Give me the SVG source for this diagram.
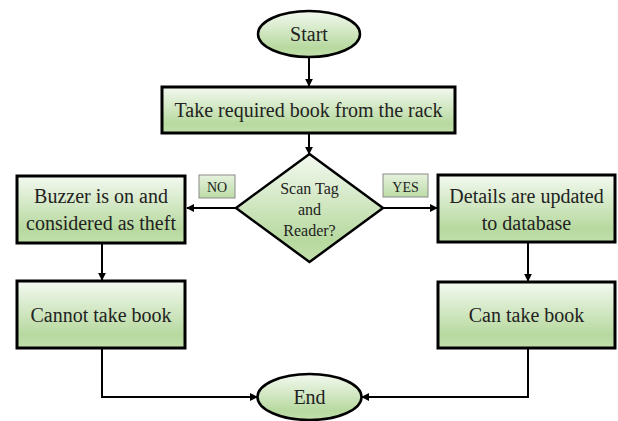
<svg xmlns="http://www.w3.org/2000/svg" width="618" height="421" viewBox="0 0 618 421">
<defs>
<linearGradient id="g" x1="0" y1="0" x2="0" y2="1">
<stop offset="0" stop-color="#f3f9f0"/>
<stop offset="0.8" stop-color="#b7d99f"/>
<stop offset="1" stop-color="#c2e0ac"/>
</linearGradient>
<linearGradient id="gl" x1="0" y1="0" x2="0" y2="1">
<stop offset="0" stop-color="#e6f2de"/>
<stop offset="1" stop-color="#bcdca6"/>
</linearGradient>
<marker id="ah" viewBox="0 0 10 10" refX="9" refY="5" markerWidth="4" markerHeight="4" orient="auto" markerUnits="strokeWidth">
<path d="M0,0 L10,5 L0,10 z" fill="#000"/>
</marker>
<style>
.box{fill:url(#g);stroke:#000;stroke-width:3}
.term{fill:url(#g);stroke:#000;stroke-width:2.5}
.lab{fill:url(#gl);stroke:#8a8a8a;stroke-width:1}
.t,.s,.l{font-family:'Liberation Serif','DejaVu Serif',serif;fill:#222;text-anchor:middle}
.t{font-size:20px}
.s{font-size:16px}
.l{font-size:14px}
.c{fill:none;stroke:#000;stroke-width:2;marker-end:url(#ah)}
</style>
</defs>
<g id="connectors">
<path class="c" d="M309,57 V86"/>
<path class="c" d="M309,133 V154"/>
<path class="c" d="M236,208 H187"/>
<path class="c" d="M383,208 H437"/>
<path class="c" d="M102,243 V280"/>
<path class="c" d="M528,242 V281"/>
<path class="c" d="M102,348 V397 H257"/>
<path class="c" d="M528,348 V397 H362"/>
</g>
<g id="start">
<ellipse class="term" cx="309" cy="34" rx="51" ry="23"/>
<text class="t" x="309" y="41">Start</text>
</g>
<g id="take">
<rect class="box" x="162" y="87" width="293" height="46"/>
<text class="t" x="308.5" y="117">Take required book from the rack</text>
</g>
<g id="decision">
<polygon class="term" points="309.5,154 383,208 309.5,262 236,208"/>
<text class="s" x="309.5" y="194">Scan Tag</text>
<text class="s" x="309.5" y="215">and</text>
<text class="s" x="309.5" y="236">Reader?</text>
</g>
<g id="no-label">
<rect class="lab" x="199" y="175" width="36" height="23"/>
<text class="l" x="217" y="192">NO</text>
</g>
<g id="yes-label">
<rect class="lab" x="383" y="174" width="45" height="23"/>
<text class="l" x="405.5" y="192">YES</text>
</g>
<g id="buzzer">
<rect class="box" x="17" y="176" width="168" height="67"/>
<text class="t" x="101" y="203">Buzzer is on and</text>
<text class="t" x="101" y="230">considered as theft</text>
</g>
<g id="details">
<rect class="box" x="438" y="175" width="177" height="67"/>
<text class="t" x="526.5" y="203">Details are updated</text>
<text class="t" x="526.5" y="230">to database</text>
</g>
<g id="cannot">
<rect class="box" x="17" y="281" width="168" height="67"/>
<text class="t" x="101" y="322">Cannot take book</text>
</g>
<g id="can">
<rect class="box" x="438" y="282" width="177" height="66"/>
<text class="t" x="526.5" y="322">Can take book</text>
</g>
<g id="end">
<ellipse class="term" cx="309.5" cy="397" rx="52" ry="23"/>
<text class="t" x="309.5" y="404">End</text>
</g>
</svg>
